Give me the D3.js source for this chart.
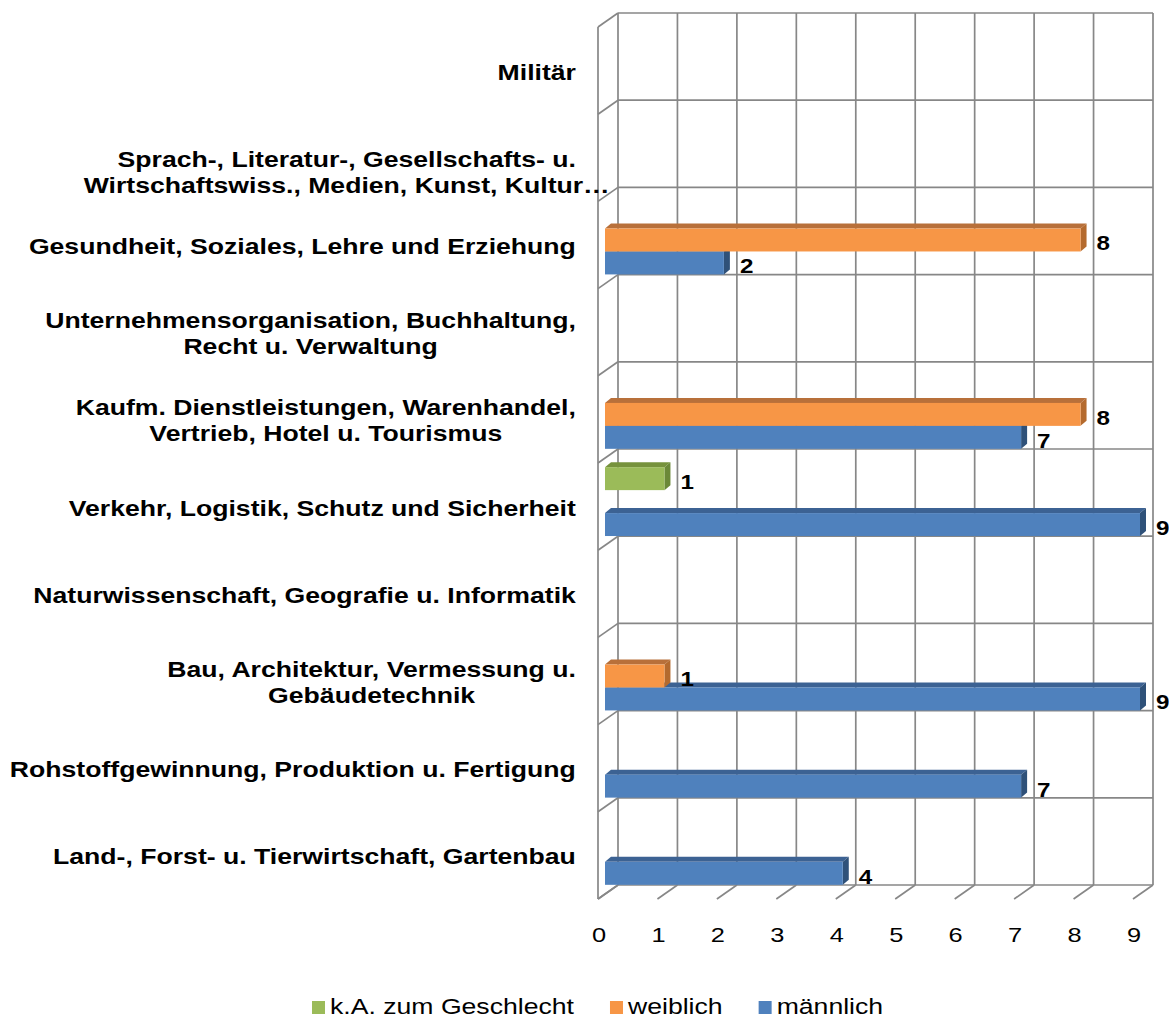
<!doctype html>
<html lang="de">
<head>
  <meta charset="UTF-8">
  <title>Berufsbereiche nach Geschlecht</title>
  <style type="text/css">
    body { margin: 0; background: #fff; }
    svg text { font-family: "Liberation Sans", Arial, sans-serif; fill: #000; }
  </style>
  <script src="https://cdn.jsdelivr.net/npm/d3@7/dist/d3.min.js"></script>
</head>
<body>
  <div id="container"></div>
  <script>
    // Kategorien von unten nach oben (wie in der Vorlage)
    var categories = [
      "Land-, Forst- u. Tierwirtschaft, Gartenbau",
      "Rohstoffgewinnung, Produktion u. Fertigung",
      "Bau, Architektur, Vermessung u.|Gebäudetechnik",
      "Naturwissenschaft, Geografie u. Informatik",
      "Verkehr, Logistik, Schutz und Sicherheit",
      "Kaufm. Dienstleistungen, Warenhandel,|Vertrieb, Hotel u. Tourismus",
      "Unternehmensorganisation, Buchhaltung,|Recht u. Verwaltung",
      "Gesundheit, Soziales, Lehre und Erziehung",
      "Sprach-, Literatur-, Gesellschafts- u.|Wirtschaftswiss., Medien, Kunst, Kultur…",
      "Militär"
    ];
    var maennlich = [4, 7, 9, 0, 9, 7, 0, 2, 0, 0];
    var weiblich = [0, 0, 1, 0, 0, 8, 0, 8, 0, 0];
    var keineAngabe = [0, 0, 0, 0, 1, 0, 0, 0, 0, 0];
    var xTicks = [0, 1, 2, 3, 4, 5, 6, 7, 8, 9];
    var seriesNames = ["k.A. zum Geschlecht", "weiblich", "männlich"];

    var width = 1169, height = 1018;
    var wall = { left: 618, right: 1153, top: 13, bottom: 885 },
      depth = { dx: -20, dy: 14 },     // Tiefe der Bodenplatte / Seitenwand
      barShift = { dx: -13, dy: 9 },   // Vorderseite der Balken
      barDepth = { dx: 6, dy: -5 };    // Tiefe der Balken
    var gridColor = "#878787";
    var sx = 1.21; // Schrift ist in der Vorlage horizontal gestreckt

    var colors = {
      "k.A. zum Geschlecht": { front: "#9BBB59", top: "#76923C", side: "#6B8838" },
      "weiblich": { front: "#F79646", top: "#B8703A", side: "#B46A2E" },
      "männlich": { front: "#4F81BD", top: "#3C6293", side: "#2F5179" }
    };

    var svg = d3.select('#container').append('svg').attr('width', width).attr('height', height);

    var x = d3.scaleLinear().domain([0, 9]).range([wall.left, wall.right]);
    var y = d3.scaleBand().domain(categories).range([wall.bottom, wall.top]);
    var inner = d3.scaleBand().domain(seriesNames).range([0, y.bandwidth()]).paddingOuter(0.4);

    // gestreckter Text an Position (tx, ty)
    function stretchedText(parent, tx, ty, str, size, weight, anchor) {
      var g = parent.append('g').attr('transform', 'translate(' + tx + ',' + ty + ') scale(' + sx + ',1)');
      return g.append('text').attr('font-size', size).attr('font-weight', weight || 'normal')
        .attr('text-anchor', anchor || 'start').text(str);
    }

    var grid = svg.append('g').attr('stroke', gridColor).attr('stroke-width', 1.7).attr('fill', 'none');
    var bounds = categories.map(function (c) { return y(c); }).concat([wall.bottom]);

    // Rückwand: horizontale Linien
    grid.selectAll('.hline').data(bounds).enter().append('line')
      .attr('x1', x(0)).attr('x2', x(9))
      .attr('y1', function (d) { return d; }).attr('y2', function (d) { return d; });
    // Rückwand: vertikale Linien
    grid.selectAll('.vline').data(xTicks).enter().append('line')
      .attr('x1', function (d) { return x(d); }).attr('x2', function (d) { return x(d); })
      .attr('y1', wall.top).attr('y2', wall.bottom);
    // Seitenwand
    grid.append('line')
      .attr('x1', x(0) + depth.dx).attr('x2', x(0) + depth.dx)
      .attr('y1', wall.top + depth.dy).attr('y2', wall.bottom + depth.dy);
    grid.selectAll('.diag').data(bounds).enter().append('line')
      .attr('x1', x(0)).attr('y1', function (d) { return d; })
      .attr('x2', x(0) + depth.dx).attr('y2', function (d) { return d + depth.dy; });
    // Boden
    grid.selectAll('.floor').data(xTicks).enter().append('line')
      .attr('x1', function (d) { return x(d); }).attr('y1', wall.bottom)
      .attr('x2', function (d) { return x(d) + depth.dx; }).attr('y2', wall.bottom + depth.dy);

    // Balken-Daten (unterste Reihe zuerst zeichnen)
    var bars = [];
    var seriesData = { "männlich": maennlich, "weiblich": weiblich, "k.A. zum Geschlecht": keineAngabe };
    ["männlich", "weiblich", "k.A. zum Geschlecht"].forEach(function (s) {
      seriesData[s].forEach(function (v, i) {
        if (v > 0) bars.push({ series: s, cat: categories[i], value: v });
      });
    });

    var barG = svg.append('g');
    bars.forEach(function (d) {
      var x0 = x(0) + barShift.dx, x1 = x(d.value) + barShift.dx;
      var y0 = y(d.cat) + inner(d.series) + barShift.dy, h = inner.bandwidth();
      var c = colors[d.series];
      var g = barG.append('g');
      g.append('polygon').attr('fill', c.top)
        .attr('points', [[x0, y0], [x0 + barDepth.dx, y0 + barDepth.dy], [x1 + barDepth.dx, y0 + barDepth.dy], [x1, y0]].join(' '));
      g.append('polygon').attr('fill', c.side)
        .attr('points', [[x1, y0], [x1 + barDepth.dx, y0 + barDepth.dy], [x1 + barDepth.dx, y0 + h + barDepth.dy], [x1, y0 + h]].join(' '));
      g.append('rect').attr('fill', c.front)
        .attr('x', x0).attr('y', y0).attr('width', x1 - x0).attr('height', h);
      d.labelX = x1 + 16;
      d.labelY = y0 + h - 1;
    });

    // Datenbeschriftungen
    var labelG = svg.append('g');
    bars.forEach(function (d) {
      stretchedText(labelG, d.labelX, d.labelY, d.value, 20, 'bold');
    });

    // x-Achse
    var axisG = svg.append('g');
    xTicks.forEach(function (t) {
      stretchedText(axisG, x(t) + depth.dx + 1, 942, t, 21, 'normal', 'middle');
    });

    // Kategorienbeschriftungen (rechtsbündig, Zeilen um die erste Zeile zentriert)
    var labelRight = 576, lineH = 26;
    categories.forEach(function (c) {
      var lines = c.split('|');
      var truncated = /…$/.test(c);
      var centerY = y(c) + y.bandwidth() / 2 + depth.dy;
      var base = centerY + 9 - (truncated ? 0 : (lines.length - 1) * lineH / 2);
      var g = svg.append('g');
      var texts = lines.map(function (l, i) {
        return g.append('text').attr('font-size', 22).attr('font-weight', 'bold')
          .attr('text-anchor', 'middle').attr('y', i * lineH).text(l);
      });
      var w0 = texts[0].node().getComputedTextLength() * sx;
      g.attr('transform', 'translate(' + (labelRight - w0 / 2) + ',' + base + ') scale(' + sx + ',1)');
    });

    // Legende (gleichmäßige Abstände zwischen den Einträgen)
    var legendOrder = ["k.A. zum Geschlecht", "weiblich", "männlich"];
    var lg = svg.append('g');
    var lx = 312, legendGap = 36;
    legendOrder.forEach(function (name) {
      lg.append('rect').attr('x', lx).attr('y', 1001).attr('width', 13).attr('height', 13)
        .attr('fill', colors[name].front);
      var t = stretchedText(lg, lx + 18, 1014, name, 22, 'normal', 'start');
      lx += 18 + t.node().getComputedTextLength() * sx + legendGap;
    });
  </script>
</body>
</html>
